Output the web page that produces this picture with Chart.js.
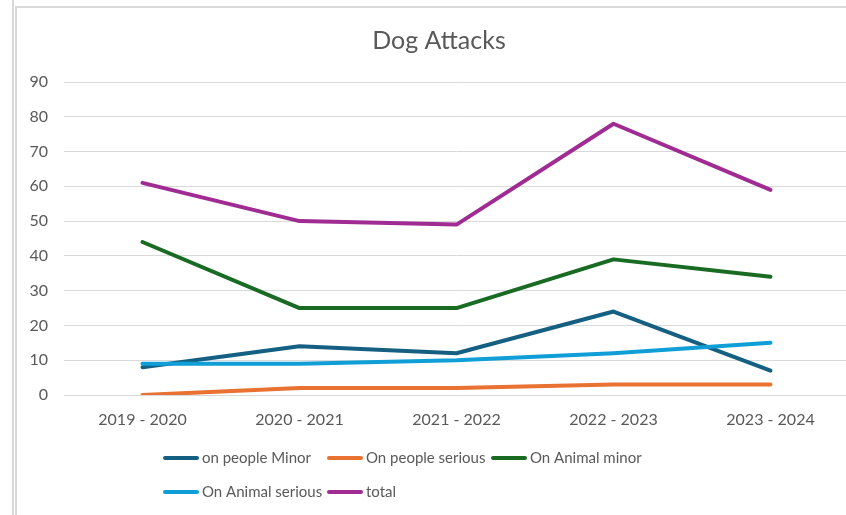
<!DOCTYPE html>
<html>
<head>
<meta charset="utf-8">
<title>Dog Attacks</title>
<script src="https://cdn.jsdelivr.net/npm/chart.js@4.4.1/dist/chart.umd.min.js"></script>
<style>
  html, body { margin: 0; padding: 0; background: #fff; overflow: hidden; }
  body { width: 846px; height: 515px; position: relative; }
  .edge { position: absolute; left: 12px; top: 0; width: 2px; height: 515px; background: #d9d9d9; }
  .frame { position: absolute; left: 15px; top: 6px; width: 860px; height: 520px;
           border-left: 2px solid #d9d9d9; border-top: 2px solid #d9d9d9; }
  #myChart { position: absolute; left: 0; top: 0; }
</style>
</head>
<body>
<div class="edge"></div>
<div class="frame">
  <canvas id="myChart" width="858" height="505"></canvas>
</div>
<script>
const seasons = ['2019 - 2020', '2020 - 2021', '2021 - 2022', '2022 - 2023', '2023 - 2024']

const onPeopleMinor = [8, 14, 12, 24, 7]
const onPeopleSerious = [0, 2, 2, 3, 3]
const onAnimalMinor = [44, 25, 25, 39, 34]
const onAnimalSerious = [9, 9, 10, 12, 15]
const total = [61, 50, 49, 78, 59]

const yMin = 0
const yMax = 90
const yStep = 10

const textGrey = '#595959'
const gridGrey = '#d9d9d9'
const fontName = 'Lato'

function lineSet(label, data, color, order) {
    return {
        label: label,
        data: data,
        borderColor: color,
        backgroundColor: color,
        borderWidth: 4,
        borderCapStyle: 'round',
        borderJoinStyle: 'round',
        pointRadius: 0,
        pointHoverRadius: 0,
        tension: 0,
        order: order
    }
}

// excel lays its legend out in equal columns, three per row, so draw it that way
const legendLeft = 146
const legendTop = 450
const legendColWidth = 164
const legendRowGap = 34
const legendPerRow = 3

const columnLegend = {
    id: 'columnLegend',
    afterDraw(chart) {
        const c = chart.ctx
        c.save()
        c.font = '15px ' + fontName
        c.textBaseline = 'middle'
        c.textAlign = 'left'
        c.lineWidth = 4
        c.lineCap = 'round'
        chart.data.datasets.forEach((ds, i) => {
            const x = legendLeft + (i % legendPerRow) * legendColWidth
            const y = legendTop + Math.floor(i / legendPerRow) * legendRowGap
            c.strokeStyle = ds.borderColor
            c.beginPath()
            c.moveTo(x + 2, y)
            c.lineTo(x + 34, y)
            c.stroke()
            c.fillStyle = textGrey
            c.fillText(ds.label, x + 39, y)
        })
        c.restore()
    }
}

const ctx = document.getElementById('myChart')

new Chart(ctx, {
    type: 'line',
    data: {
        labels: seasons,
        datasets: [
            lineSet('on people Minor', onPeopleMinor, '#156082', 5),
            lineSet('On people serious', onPeopleSerious, '#e97132', 4),
            lineSet('On Animal minor', onAnimalMinor, '#196b24', 3),
            lineSet('On Animal serious', onAnimalSerious, '#0f9ed5', 2),
            lineSet('total', total, '#a02b93', 1)
        ]
    },
    options: {
        responsive: false,
        animation: false,
        layout: {
            padding: { top: 0, right: 26, bottom: 81, left: 12 }
        },
        scales: {
            x: {
                offset: true,
                grid: { display: false, drawTicks: false },
                border: { display: false },
                ticks: {
                    color: textGrey,
                    font: { family: fontName, size: 16 },
                    padding: 15,
                    maxRotation: 0
                },
                afterFit(scale) { scale.height = 37 }
            },
            y: {
                min: yMin,
                max: yMax,
                grid: { color: gridGrey, lineWidth: 1, drawTicks: false },
                border: { display: false },
                ticks: {
                    stepSize: yStep,
                    color: textGrey,
                    font: { family: fontName, size: 16 },
                    padding: 16
                },
                afterFit(scale) { scale.width = 35 }
            }
        },
        plugins: {
            title: {
                display: true,
                text: 'Dog Attacks',
                color: textGrey,
                font: { family: fontName, size: 25, weight: 'normal' },
                padding: { top: 18, bottom: 26 }
            },
            legend: { display: false },
            tooltip: { enabled: false }
        }
    },
    plugins: [columnLegend]
})
</script>
</body>
</html>
